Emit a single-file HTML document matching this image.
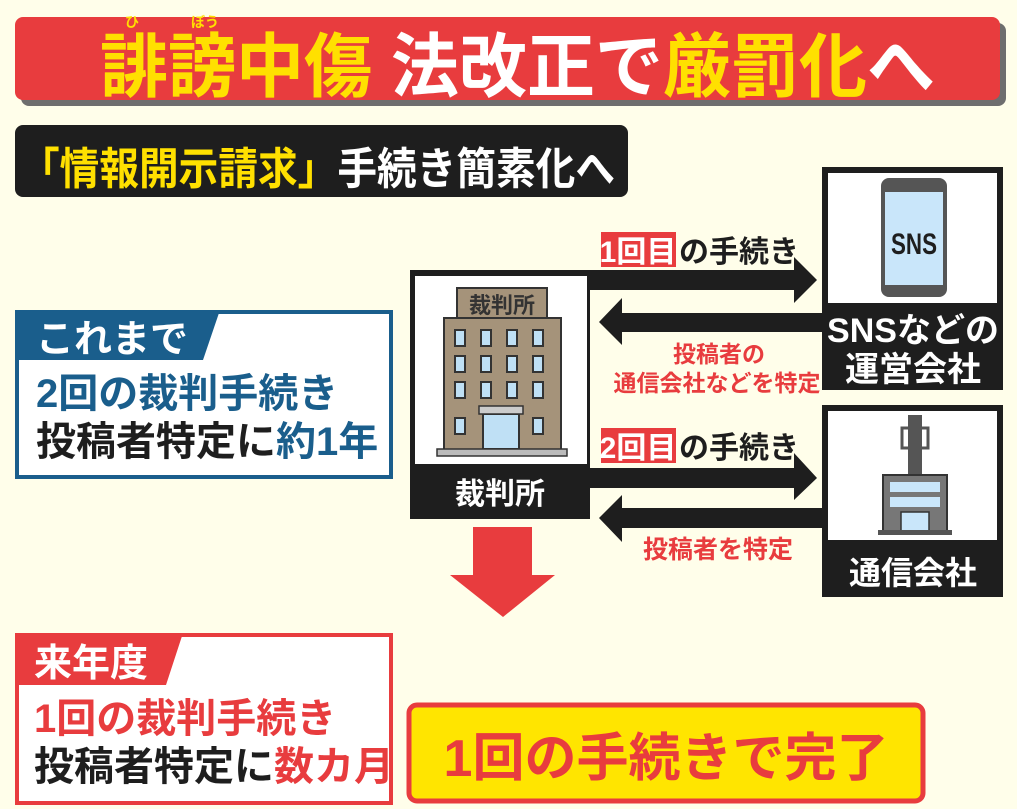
<!DOCTYPE html>
<html><head><meta charset="utf-8"><style>
html,body{margin:0;padding:0;background:#fffeea;}
svg{display:block}
text{font-family:"Liberation Sans","Noto Sans CJK JP",sans-serif;font-weight:700;}
</style></head><body>
<svg width="1017" height="809" viewBox="0 0 1017 809" xmlns="http://www.w3.org/2000/svg">
<rect width="1017" height="809" fill="#fffeea"/>
<!-- title -->
<rect x="21" y="23" width="985" height="83" rx="8" fill="#6e6e6e"/>
<rect x="15" y="17" width="985" height="83" rx="8" fill="#e83c3e"/>
<text x="132" y="27" font-size="14" fill="#ffe000" text-anchor="middle">ひ</text>
<text x="205" y="27" font-size="14" fill="#ffe000" text-anchor="middle">ぼう</text>
<text x="100" y="91" font-size="70" textLength="835" lengthAdjust="spacingAndGlyphs"><tspan fill="#ffe000">誹謗中傷</tspan><tspan fill="#ffffff"> 法改正で</tspan><tspan fill="#ffe000">厳罰化</tspan><tspan fill="#ffffff">へ</tspan></text>
<!-- subtitle -->
<rect x="15" y="125" width="613" height="72" rx="8" fill="#1e1e1e"/>
<text x="20" y="184" font-size="44" textLength="595" lengthAdjust="spacingAndGlyphs"><tspan fill="#ffe000">「情報開示請求」</tspan><tspan fill="#ffffff">手続き簡素化へ</tspan></text>
<!-- blue box -->
<rect x="17" y="312" width="374" height="165" fill="#fff" stroke="#1a5e8c" stroke-width="4"/>
<polygon points="15,310 220,310 203,360 15,360" fill="#1a5e8c"/>
<text x="36" y="352" font-size="38" fill="#fff">これまで</text>
<text x="36" y="407" font-size="40" fill="#1a5e8c">2回の裁判手続き</text>
<text x="36" y="455" font-size="40" fill="#1e1e1e">投稿者特定に<tspan fill="#1a5e8c">約1年</tspan></text>
<!-- red box -->
<rect x="17" y="635" width="374" height="168" fill="#fff" stroke="#e83c3e" stroke-width="4"/>
<polygon points="15,633 183,633 166,685 15,685" fill="#e83c3e"/>
<text x="34" y="676" font-size="38" fill="#fff">来年度</text>
<text x="34" y="732" font-size="40" fill="#e83c3e">1回の裁判手続き</text>
<text x="34" y="780" font-size="40" fill="#1e1e1e">投稿者特定に<tspan fill="#e83c3e">数カ月</tspan></text>
<!-- court box -->
<rect x="410" y="270" width="180" height="249" fill="#1e1e1e"/>
<rect x="415" y="276" width="172" height="188" fill="#fff"/>
<text x="500" y="504" font-size="30" fill="#fff" text-anchor="middle">裁判所</text>
<!-- building -->
<rect x="457" y="288" width="90" height="30" fill="#a5937a" stroke="#333" stroke-width="2"/>
<text x="502" y="313" font-size="22" fill="#333" text-anchor="middle">裁判所</text>
<rect x="444" y="318" width="117" height="132" fill="#a5937a" stroke="#333" stroke-width="2"/>
<g fill="#bfe0f5" stroke="#333" stroke-width="2">
<rect x="455" y="330" width="10" height="16"/><rect x="481" y="330" width="10" height="16"/><rect x="507" y="330" width="10" height="16"/><rect x="533" y="330" width="10" height="16"/>
<rect x="455" y="356" width="10" height="16"/><rect x="481" y="356" width="10" height="16"/><rect x="507" y="356" width="10" height="16"/><rect x="533" y="356" width="10" height="16"/>
<rect x="455" y="382" width="10" height="16"/><rect x="481" y="382" width="10" height="16"/><rect x="507" y="382" width="10" height="16"/><rect x="533" y="382" width="10" height="16"/>
<rect x="455" y="418" width="10" height="16"/><rect x="533" y="418" width="10" height="16"/>
<rect x="483" y="414" width="36" height="35"/>
</g>
<rect x="479" y="406" width="44" height="8" fill="#ccc" stroke="#333" stroke-width="1.5"/>
<rect x="437" y="449" width="130" height="7" fill="#bbb" stroke="#333" stroke-width="1.5"/>
<!-- arrows -->
<g fill="#1e1e1e">
<polygon points="590,270 794,270 794,257 817,280 794,303 794,290 590,290"/>
<polygon points="823,313 622,313 622,298 599,322 622,345 622,332 823,332"/>
<polygon points="590,468 794,468 794,453 817,478 794,500 794,488 590,488"/>
<polygon points="823,508 622,508 622,495 599,518 622,542 622,528 823,528"/>
</g>
<rect x="601" y="232" width="75" height="35" fill="#e83c3e"/>
<text x="638" y="262" font-size="30" fill="#fff" text-anchor="middle">1回目</text>
<text x="679" y="262" font-size="30" fill="#1e1e1e">の手続き</text>
<rect x="601" y="428" width="75" height="35" fill="#e83c3e"/>
<text x="638" y="458" font-size="30" fill="#fff" text-anchor="middle">2回目</text>
<text x="679" y="458" font-size="30" fill="#1e1e1e">の手続き</text>
<text x="719" y="362" font-size="23" fill="#e83c3e" text-anchor="middle">投稿者の</text>
<text x="717" y="391" font-size="23" fill="#e83c3e" text-anchor="middle">通信会社などを特定</text>
<text x="718" y="558" font-size="25" fill="#e83c3e" text-anchor="middle">投稿者を特定</text>
<!-- SNS box -->
<rect x="822" y="167" width="181" height="223" fill="#1e1e1e"/>
<rect x="828" y="173" width="169" height="130" fill="#fff"/>
<rect x="881" y="178" width="66" height="119" rx="8" fill="#555"/>
<rect x="885" y="192" width="58" height="93" fill="#c9e6fa"/>
<text x="914" y="254" font-size="30" fill="#1e1e1e" text-anchor="middle" textLength="46" lengthAdjust="spacingAndGlyphs">SNS</text>
<text x="913" y="342" font-size="34" fill="#fff" text-anchor="middle">SNSなどの</text>
<text x="913" y="381" font-size="34" fill="#fff" text-anchor="middle">運営会社</text>
<!-- tsushin box -->
<rect x="822" y="405" width="181" height="192" fill="#1e1e1e"/>
<rect x="828" y="411" width="169" height="129" fill="#fff"/>
<rect x="908" y="415" width="14" height="60" fill="#555"/>
<rect x="902" y="428" width="26" height="20" fill="none" stroke="#555" stroke-width="3"/>
<rect x="883" y="475" width="64" height="56" fill="#777" stroke="#333" stroke-width="2"/>
<rect x="890" y="482" width="50" height="10" fill="#c9e6fa"/>
<rect x="890" y="497" width="50" height="10" fill="#c9e6fa"/>
<rect x="901" y="512" width="28" height="19" fill="#c9e6fa" stroke="#333" stroke-width="1.5"/>
<rect x="878" y="530" width="74" height="5" fill="#555"/>
<text x="913" y="584" font-size="32" fill="#fff" text-anchor="middle">通信会社</text>
<!-- down arrow -->
<polygon points="473,527 532,527 532,575 555,575 503,617 450,575 473,575" fill="#e83c3e"/>
<!-- yellow result -->
<rect x="409" y="705" width="514" height="96" rx="8" fill="#ffe500" stroke="#e83c3e" stroke-width="5"/>
<text x="666" y="776" font-size="52" fill="#e83c3e" text-anchor="middle">1回の手続きで完了</text>
</svg>
</body></html>
